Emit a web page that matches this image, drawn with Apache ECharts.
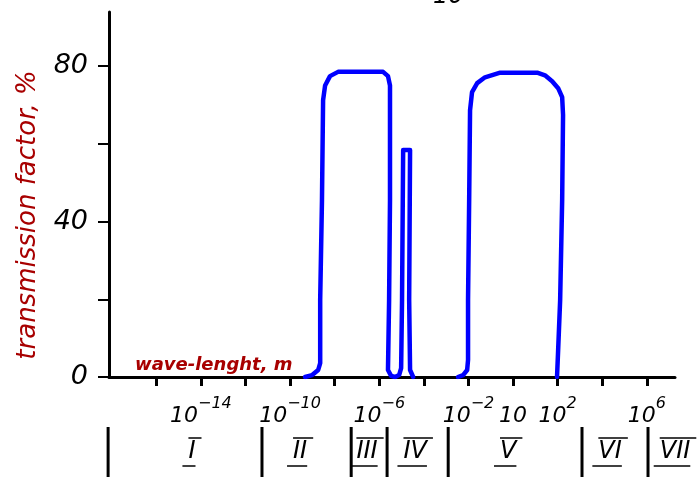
<!DOCTYPE html>
<html>
<head>
<meta charset="utf-8">
<script src="https://cdn.jsdelivr.net/npm/echarts@6/dist/echarts.min.js"></script>
<style>html,body{margin:0;padding:0;background:#fff}#c{width:698px;height:481px}</style>
</head>
<body>
<div id="c"></div>
<script>
// ---- data (x = decimal exponent of wavelength in metres, y = transmission %) ----
const curveExp = [-9.33,-9.01,-8.74,-8.65,-8.65,-8.57,-8.52,-8.43,-8.21,-7.85,-5.83,-5.61,-5.52,-5.52,-5.56,-5.61,-5.47,-5.29,-5.11,-5.02,-4.98,-4.93,-4.62,-4.66,-4.62,-4.48,
                  null,
                  -2.47,-2.24,-2.06,-2.02,-2.02,-1.97,-1.93,-1.84,-1.61,-1.26,-0.58,1.08,1.43,1.75,2.02,2.2,2.24,2.2,2.11,2.02,1.97];
const curveT   = [0,0.5,1.8,3.6,19.8,45.5,71.2,75,77.4,78.5,78.5,77.4,75,45.5,19.8,1.8,0.3,0,0.5,2.3,19.8,58.4,58.4,19.8,1.8,0,
                  null,
                  0,0.5,1.8,4.4,19.8,45.5,68.6,73.3,75.6,77.1,78.3,78.3,77.6,76.1,74.3,72,67.4,45.5,19.8,6.9,0];
const xTickExps  = [-16,-14,-12,-10,-8,-6,-4,-2,0,2,4,6];
const xLabelExps = [-14,-10,-6,-2,0,2,6];
const yTicks  = [0,20,40,60,80];
const yLabels = [0,40,80];
const regionBounds  = [-18.16,-11.26,-7.26,-5.65,-2.91,3.09,6.05];
const regionCenters = [-14.4,-9.55,-6.55,-4.39,-0.22,4.35,7.26];
const regionNames   = ['I','II','III','IV','V','VI','VII'];
const yTitle = 'transmission factor, %';
const xTitle = 'wave-lenght, m';

// ---- build ----
const DARKRED = '#a80000';
const FONT = "'DejaVu Sans'";
const curveData = curveExp.map((e,i)=> e===null ? [null,null] : [e, curveT[i]]);
const measureCtx = document.createElement('canvas').getContext('2d');
const numFont = "italic 24px 'DejaVu Sans'";
measureCtx.font = numFont;

const chart = echarts.init(document.getElementById('c'), null, {renderer:'canvas'});
chart.setOption({
  animation:false,
  backgroundColor:'#fff',
  grid:{left:109,right:23,top:12,bottom:104,containLabel:false},
  xAxis:{
    type:'value', min:-18.12, max:7.26,
    splitLine:{show:false},
    axisLine:{onZero:false,lineStyle:{color:'#000',width:3}},
    axisTick:{show:true,length:9,lineStyle:{color:'#000',width:3},customValues:xTickExps},
    axisLabel:{
      customValues:xLabelExps, margin:19,
      formatter:v=> v===0 ? '{b|10}' : '{b|10}{s|' + (v<0?'\u2212'+(-v):v) + '}',
      rich:{
        b:{fontFamily:FONT,fontStyle:'italic',fontSize:22,lineHeight:31,verticalAlign:'bottom',color:'#000'},
        s:{fontFamily:FONT,fontStyle:'italic',fontSize:16,lineHeight:16,verticalAlign:'top',color:'#000'}
      }
    }
  },
  yAxis:{
    type:'value', min:0, max:93.9,
    splitLine:{show:false},
    axisLine:{onZero:false,lineStyle:{color:'#000',width:3}},
    axisTick:{show:true,length:11,lineStyle:{color:'#000',width:2},customValues:yTicks},
    axisLabel:{customValues:yLabels,margin:21,fontFamily:FONT,fontStyle:'italic',fontSize:27,color:'#000'}
  },
  graphic:[
    {type:'text',x:28,y:215,rotation:Math.PI/2,style:{text:yTitle,font:"italic 26px 'DejaVu Sans'",fill:DARKRED,textAlign:'center',textVerticalAlign:'middle'}},
    {type:'text',left:135,top:356,style:{text:xTitle,font:"italic bold 18px 'DejaVu Sans'",fill:DARKRED}},
    {type:'text',left:433,top:-15,style:{text:'10',font:"italic 24px 'DejaVu Sans'",fill:'#000'}}
  ],
  series:[
    {
      type:'line', data:curveData, showSymbol:false, symbol:'none', connectNulls:false,
      lineStyle:{color:'#0000ff',width:4.5,join:'round',cap:'round'}, z:3
    },
    {
      type:'custom', clip:false, silent:true,
      data:regionBounds.map(v=>[v]),
      renderItem:(params,api)=>{
        const p = api.coord([api.value(0),0]);
        return {type:'line',shape:{x1:p[0],y1:p[1]+50,x2:p[0],y2:p[1]+100},style:{stroke:'#000',lineWidth:3}};
      }
    },
    {
      type:'custom', clip:false, silent:true,
      data:regionCenters.map((v,i)=>[v,i]),
      renderItem:(params,api)=>{
        const p = api.coord([api.value(0),0]);
        const name = regionNames[api.value(1)];
        const w = measureCtx.measureText(name).width + 6;
        return {type:'group',children:[
          {type:'text',x:p[0],y:p[1]+75,style:{text:name,font:numFont,fill:'#000',textAlign:'center',textVerticalAlign:'middle'}},
          {type:'line',shape:{x1:p[0]-w/2+3,y1:p[1]+61,x2:p[0]+w/2+3,y2:p[1]+61},style:{stroke:'#000',lineWidth:1.5}},
          {type:'line',shape:{x1:p[0]-w/2-3,y1:p[1]+89,x2:p[0]+w/2-3,y2:p[1]+89},style:{stroke:'#000',lineWidth:1.5}}
        ]};
      }
    }
  ]
});
</script>
</body>
</html>
